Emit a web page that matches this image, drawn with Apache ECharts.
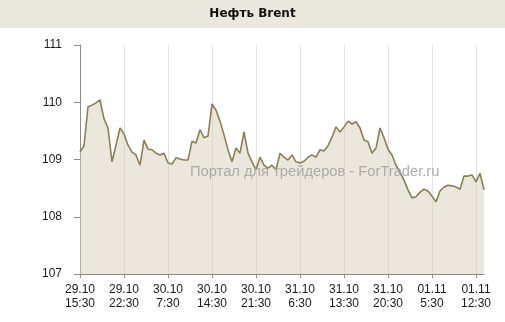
<!DOCTYPE html>
<html><head><meta charset="utf-8">
<script src="https://cdn.jsdelivr.net/npm/echarts@6/dist/echarts.min.js"></script>
<style>html,body{margin:0;padding:0;background:#fff}#c{width:505px;height:322px}</style>
</head><body><div id="c"></div>
<script>
const chartTitle = 'Нефть Brent';
const watermark = 'Портал для трейдеров - ForTrader.ru';
const tickLabels = ['29.10\n15:30','29.10\n22:30','30.10\n7:30','30.10\n14:30','30.10\n21:30','31.10\n6:30','31.10\n13:30','31.10\n20:30','01.11\n5:30','01.11\n12:30'];
const pointsPerTick = 11;
const prices = [
109.13,109.24,109.92,109.95,109.99,110.04,109.71,109.55,108.96,109.25,
109.55,109.45,109.25,109.13,109.08,108.90,109.34,109.18,109.17,109.11,
109.08,109.11,108.94,108.92,109.03,109.01,108.99,108.99,109.32,109.29,
109.52,109.38,109.41,109.97,109.86,109.67,109.43,109.17,108.96,109.20,
109.11,109.48,109.11,108.96,108.82,109.04,108.90,108.85,108.90,108.82,
109.11,109.04,108.99,109.08,108.96,108.94,108.97,109.04,109.08,109.04,
109.17,109.15,109.24,109.39,109.57,109.48,109.57,109.67,109.62,109.66,
109.55,109.34,109.31,109.11,109.20,109.55,109.38,109.18,109.08,108.90,
108.78,108.64,108.47,108.33,108.35,108.43,108.48,108.45,108.36,108.26,
108.45,108.52,108.55,108.54,108.52,108.48,108.71,108.71,108.73,108.61,
108.76,108.47
];
const categories = prices.map((_, i) => i % pointsPerTick === 0 ? tickLabels[i / pointsPerTick] : '');

const chart = echarts.init(document.getElementById('c'), null, {renderer: 'canvas'});
const font = 'Liberation Sans';
chart.setOption({
  animation: false,
  backgroundColor: '#ffffff',
  grid: {left: 80, right: 21, top: 45, bottom: 48, containLabel: false},
  graphic: [
    {type: 'rect', left: 0, top: 0, z: 0, shape: {width: 505, height: 28}, style: {fill: '#ebe8df'}},
    {type: 'text', left: 'center', top: 8, z: 1, style: {text: chartTitle, font: 'bold 12px "DejaVu Sans"', fill: '#111'}},
    {type: 'text', left: 190, top: 164, z: 100, style: {text: watermark, font: '14.7px "Liberation Sans"', fill: 'rgba(160,160,160,0.85)'}}
  ],
  xAxis: {
    type: 'category', boundaryGap: false, data: categories,
    axisLine: {lineStyle: {color: '#8a8a8a', width: 1}},
    axisTick: {interval: pointsPerTick - 1, length: 4, lineStyle: {color: '#8a8a8a'}},
    axisLabel: {interval: pointsPerTick - 1, margin: 9, fontFamily: font, fontSize: 12, color: '#1a1a1a', lineHeight: 14},
    splitLine: {show: true, interval: pointsPerTick - 1, lineStyle: {color: '#e2e2e2', width: 1}}
  },
  yAxis: {
    type: 'value', min: 107, max: 111, interval: 1,
    axisLine: {show: true, lineStyle: {color: '#8a8a8a', width: 1}},
    axisTick: {show: true, length: 6, lineStyle: {color: '#8a8a8a'}},
    axisLabel: {margin: 18, fontFamily: font, fontSize: 12, color: '#1a1a1a'},
    splitLine: {show: false}
  },
  series: [{
    type: 'line', data: prices, symbol: 'none', smooth: false,
    lineStyle: {color: '#8c7f52', width: 1.6},
    areaStyle: {color: '#d7cfbb', opacity: 0.5}
  }]
});
</script></body></html>
